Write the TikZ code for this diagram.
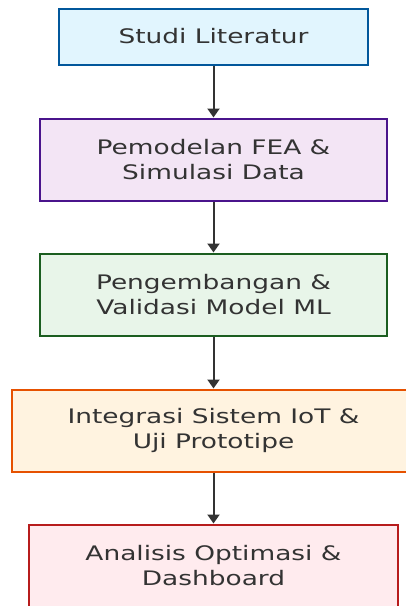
\documentclass[tikz,border=0pt]{standalone}
\usepackage{fontspec}
\setmainfont{DejaVu Sans}[FakeStretch=1.32]
\usepackage{xcolor}
\usetikzlibrary{arrows.meta}
\definecolor{txtgray}{HTML}{333333}
\definecolor{litdraw}{HTML}{01579B}
\definecolor{litfill}{HTML}{E1F5FE}
\definecolor{feadraw}{HTML}{4A148C}
\definecolor{feafill}{HTML}{F3E5F5}
\definecolor{mldraw}{HTML}{1B5E20}
\definecolor{mlfill}{HTML}{E8F5E9}
\definecolor{iotdraw}{HTML}{E65100}
\definecolor{iotfill}{HTML}{FFF3E0}
\definecolor{dashdraw}{HTML}{B71C1C}
\definecolor{dashfill}{HTML}{FFEBEE}
\tikzset{
    >={Triangle[length=9pt, width=12pt]},
    stage/.style={shape=rectangle, line width=2pt, text=txtgray, align=center,
        font=\fontsize{20}{25}\selectfont, inner sep=0pt}}

\begin{document}
\begin{tikzpicture}[x=1pt, y=-1pt]

    \useasboundingbox (0,0) rectangle (406,606);

    \node[stage, draw=litdraw, fill=litfill, minimum width=309pt, minimum height=56pt] (S1) at (213.5,36.5) {Studi Literatur};
    \node[stage, draw=feadraw, fill=feafill, minimum width=347pt, minimum height=82pt] (S2) at (213.5,159.5) {Pemodelan FEA \&\\Simulasi Data};
    \node[stage, draw=mldraw, fill=mlfill, minimum width=347pt, minimum height=82pt] (S3) at (213.5,294.5) {Pengembangan \&\\Validasi Model ML};
    \node[stage, draw=iotdraw, fill=iotfill, minimum width=404pt, minimum height=82pt] (S4) at (213.5,430.5) {Integrasi Sistem IoT \&\\Uji Prototipe};
    \node[stage, draw=dashdraw, fill=dashfill, minimum width=369pt, minimum height=82pt] (S5) at (213.5,565.5) {Analisis Optimasi \&\\Dashboard};

    \draw[->, line width=2pt, txtgray] (S1) -- (S2);
    \draw[->, line width=2pt, txtgray] (S2) -- (S3);
    \draw[->, line width=2pt, txtgray] (S3) -- (S4);
    \draw[->, line width=2pt, txtgray] (S4) -- (S5);

\end{tikzpicture}
\end{document}
